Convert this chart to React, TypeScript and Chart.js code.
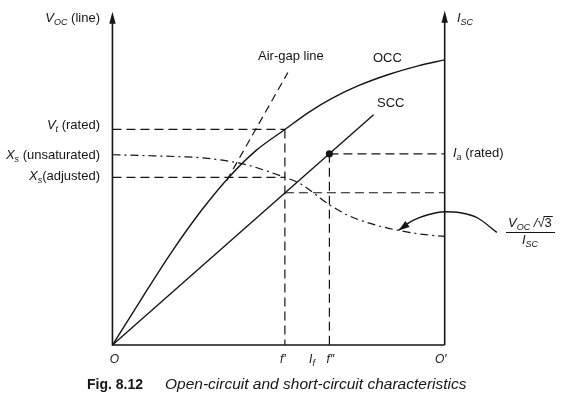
import React, { useEffect, useRef } from "react";
import { Chart, registerables } from "chart.js";

Chart.register(...registerables);

// ---- data (x: field current, 0..100 = O..O'; y: 0..100 = axis height) ----
const occX = [0, 8.9, 17.8, 26.7, 35.0, 43.0, 51.9, 59.3, 66.2, 74.2, 83.1, 92.0, 100];
const occY = [0, 14.1, 27.9, 40.3, 50.3, 58.2, 64.7, 70.0, 74.1, 77.9, 81.2, 83.8, 85.6];

const sccX = [0, 78.6];
const sccY = [0, 69.1];

const airGapX = [34.4, 52.8];
const airGapY = [49.4, 81.8];

const xsX = [0, 11.9, 20.8, 26.7, 37.7, 41.5, 51.9, 56.4, 65.3, 71.2, 78.6, 86.1, 93.5, 100];
const xsY = [57.1, 56.8, 56.5, 56.2, 54.7, 53.8, 50.3, 48.5, 42.1, 38.8, 36.2, 34.4, 33.2, 32.6];

// pointer curve from the ratio label to the Xs curve (tip first)
const arrowX = [86.1, 89.9, 95.0, 100, 104.7, 109.8, 115.7];
const arrowY = [34.4, 37.1, 39.1, 40.0, 39.7, 38.2, 33.8];

const fPrime = 51.9;
const fDouble = 65.3;
const vtRated = 64.7;
const xsUnsat = 57.1;
const xsAdj = 50.3;
const sccAtFPrime = 45.7;
const iaRated = 57.4;

const X_MIN = -110 / 3.37;
const X_MAX = (567 - 110) / 3.37;
const Y_MIN = (348 - 399) / 3.4;
const Y_MAX = 348 / 3.4;

const INK = "#151515";
const FONT = '"Liberation Sans", Arial, Helvetica, sans-serif';

const pts = (xs: number[], ys: number[]) => xs.map((x, i) => ({ x, y: ys[i] }));
const seg = (x1: number, y1: number, x2: number, y2: number) => [
  { x: x1, y: y1 },
  { x: x2, y: y2 },
];

type Part = { t: string; it?: boolean; sub?: boolean; bold?: boolean };

function rich(
  ctx: CanvasRenderingContext2D,
  parts: Part[],
  x: number,
  y: number,
  align: "left" | "right" | "center",
  base = 13
) {
  const fontOf = (p: Part) =>
    `${p.it ? "italic " : ""}${p.bold ? "bold " : ""}${p.sub ? Math.round(base * 0.72) : base}px ${FONT}`;
  let w = 0;
  for (const p of parts) {
    ctx.font = fontOf(p);
    w += ctx.measureText(p.t).width;
  }
  let cx = align === "left" ? x : align === "right" ? x - w : x - w / 2;
  for (const p of parts) {
    ctx.font = fontOf(p);
    ctx.fillText(p.t, cx, p.sub ? y + 3 : y);
    cx += ctx.measureText(p.t).width;
  }
  return { start: align === "left" ? x : align === "right" ? x - w : x - w / 2, end: cx };
}

const overlay = {
  id: "overlay",
  afterDatasetsDraw(chart: any) {
    const ctx: CanvasRenderingContext2D = chart.ctx;
    const sx = chart.scales.x;
    const sy = chart.scales.y;
    const X = (v: number) => sx.getPixelForValue(v);
    const Y = (v: number) => sy.getPixelForValue(v);
    ctx.save();
    ctx.strokeStyle = INK;
    ctx.fillStyle = INK;
    ctx.setLineDash([]);

    // axes
    ctx.lineWidth = 1.6;
    ctx.beginPath();
    ctx.moveTo(X(0), Y(100) + 6);
    ctx.lineTo(X(0), Y(0));
    ctx.lineTo(X(100), Y(0));
    ctx.moveTo(X(100), Y(100) + 6);
    ctx.lineTo(X(100), Y(0));
    ctx.stroke();
    const head = (px: number, py: number) => {
      ctx.beginPath();
      ctx.moveTo(px, py);
      ctx.lineTo(px - 3.2, py + 12);
      ctx.lineTo(px + 3.2, py + 12);
      ctx.closePath();
      ctx.fill();
    };
    head(X(0), Y(100));
    head(X(100), Y(100) - 1);

    // arrowhead of the pointer curve
    {
      const tx = X(arrowX[0]);
      const ty = Y(arrowY[0]);
      const bx = X(arrowX[1]);
      const by = Y(arrowY[1]);
      const a = Math.atan2(ty - by, tx - bx);
      const L = 11;
      const h = 3.6;
      ctx.beginPath();
      ctx.moveTo(tx, ty);
      ctx.lineTo(tx - L * Math.cos(a) - h * Math.sin(a), ty - L * Math.sin(a) + h * Math.cos(a));
      ctx.lineTo(tx - L * Math.cos(a) + h * Math.sin(a), ty - L * Math.sin(a) - h * Math.cos(a));
      ctx.closePath();
      ctx.fill();
    }

    ctx.textBaseline = "alphabetic";
    ctx.textAlign = "left";

    // left-side labels
    rich(ctx, [{ t: "V", it: true }, { t: "OC", it: true, sub: true }, { t: " (line)" }], 100, 22, "right");
    rich(ctx, [{ t: "V", it: true }, { t: "t", it: true, sub: true }, { t: " (rated)" }], 100, 129, "right");
    rich(ctx, [{ t: "X", it: true }, { t: "s", it: true, sub: true }, { t: " (unsaturated)" }], 100, 159, "right");
    rich(ctx, [{ t: "X", it: true }, { t: "s", it: true, sub: true }, { t: "(adjusted)" }], 100, 180, "right");

    // curve labels
    rich(ctx, [{ t: "Air-gap line" }], 258, 60, "left");
    rich(ctx, [{ t: "OCC" }], 373, 62, "left");
    rich(ctx, [{ t: "SCC" }], 377, 107, "left");

    // right-side labels
    rich(ctx, [{ t: "I", it: true }, { t: "SC", it: true, sub: true }], 457, 22, "left");
    rich(ctx, [{ t: "I", it: true }, { t: "a", it: true, sub: true }, { t: " (rated)" }], 453, 157, "left");

    // ratio label
    const num = rich(
      ctx,
      [{ t: "V", it: true }, { t: "OC", it: true, sub: true }, { t: " /", it: true }, { t: "√" }],
      508,
      227,
      "left"
    );
    ctx.font = `13px ${FONT}`;
    ctx.fillText("3", num.end, 227);
    const w3 = ctx.measureText("3").width;
    ctx.lineWidth = 1;
    ctx.beginPath();
    ctx.moveTo(num.end - 1, 216.5);
    ctx.lineTo(num.end + w3 + 1, 216.5);
    ctx.stroke();
    ctx.lineWidth = 1.1;
    ctx.beginPath();
    ctx.moveTo(506, 232.5);
    ctx.lineTo(555, 232.5);
    ctx.stroke();
    rich(ctx, [{ t: "I", it: true }, { t: "SC", it: true, sub: true }], 530, 244, "center");

    // bottom labels
    rich(ctx, [{ t: "O", it: true }], X(0) + 2, 363, "center", 12);
    rich(ctx, [{ t: "f′", it: true }], X(fPrime) - 2, 363, "center", 12);
    rich(ctx, [{ t: "I", it: true }, { t: "f", it: true, sub: true }], 312, 363, "center", 12);
    rich(ctx, [{ t: "f″", it: true }], X(fDouble) + 1, 363, "center", 12);
    rich(ctx, [{ t: "O′", it: true }], X(100) - 4, 363, "center", 12);

    // caption
    ctx.font = `bold 14px ${FONT}`;
    ctx.fillText("Fig. 8.12", 87, 389);
    ctx.font = `italic 15.5px ${FONT}`;
    ctx.fillText("Open-circuit and short-circuit characteristics", 165, 389);

    ctx.restore();
  },
};

export default function App() {
  const ref = useRef<HTMLCanvasElement>(null);
  useEffect(() => {
    const canvas = ref.current;
    if (!canvas) return;
    const dash = [9, 5];
    const line = (data: any[], extra: any = {}) => ({
      data,
      showLine: true,
      borderColor: INK,
      borderWidth: 1.2,
      pointRadius: 0,
      fill: false,
      borderDash: dash,
      ...extra,
    });
    const chart = new Chart(canvas, {
      type: "scatter",
      data: {
        datasets: [
          line(pts(occX, occY), { borderDash: [], borderWidth: 1.4, cubicInterpolationMode: "monotone" }),
          line(pts(sccX, sccY), { borderDash: [], borderWidth: 1.4 }),
          line(pts(airGapX, airGapY), { borderDash: [8, 5] }),
          line(pts(xsX, xsY), { borderDash: [8, 4, 2, 4], cubicInterpolationMode: "monotone" }),
          line(pts(arrowX, arrowY), { borderDash: [], borderWidth: 1.4, cubicInterpolationMode: "monotone" }),
          line(seg(0, vtRated, fPrime, vtRated)),
          line(seg(fPrime, vtRated, fPrime, 0)),
          line(seg(0, xsAdj, fPrime, xsAdj)),
          line(seg(fPrime, sccAtFPrime, 100, sccAtFPrime)),
          line(seg(fDouble, iaRated, 100, iaRated)),
          line(seg(fDouble, iaRated, fDouble, 0)),
          {
            data: [{ x: fDouble, y: iaRated }],
            showLine: false,
            pointRadius: 3.6,
            pointBackgroundColor: INK,
            pointBorderColor: INK,
            pointBorderWidth: 0,
          },
        ],
      },
      options: {
        responsive: false,
        animation: false,
        events: [],
        layout: { padding: 0 },
        plugins: { legend: { display: false }, tooltip: { enabled: false } },
        scales: {
          x: { type: "linear", display: false, min: X_MIN, max: X_MAX },
          y: { type: "linear", display: false, min: Y_MIN, max: Y_MAX },
        },
      },
      plugins: [overlay],
    } as any);
    return () => chart.destroy();
  }, []);
  return (
    <div style={{ position: "fixed", left: 0, top: 0, width: 567, height: 399, background: "#fff" }}>
      <canvas ref={ref} width={567} height={399} style={{ display: "block" }} />
    </div>
  );
}
